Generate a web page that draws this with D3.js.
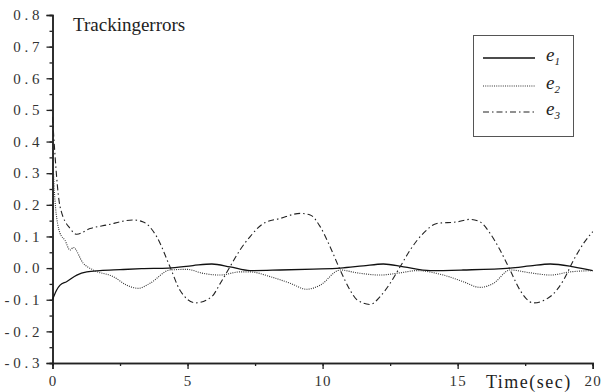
<!DOCTYPE html>
<html><head><meta charset="utf-8">
<script src="https://cdn.jsdelivr.net/npm/d3@7"></script>
<style>body{margin:0;background:#fff}svg{display:block}</style>
</head><body><svg id="c" width="603" height="392"></svg>
<script>
const yTicks=[-0.3,-0.2,-0.1,0.0,0.1,0.2,0.3,0.4,0.5,0.6,0.7,0.8];
const xTicks=[0,5,10,15,20];
const seriesNames=["e1","e2","e3"];
const e1=[[0,-0.10],[0.15,-0.07],[0.28,-0.054],[0.52,-0.043],[0.9,-0.022],[1.27,-0.012],[1.76,-0.008],[2.5,-0.005],[3.3,-0.002],[4.3,0.0],[5.2,0.008],[5.9,0.013],[6.57,0.004],[7.31,-0.008],[8.43,-0.006],[9.66,-0.003],[10.65,0.0],[11.5,0.007],[12.25,0.013],[13.0,0.004],[13.98,-0.008],[15.2,-0.006],[16.94,0.0],[17.69,0.007],[18.43,0.013],[19.29,0.004],[20,-0.008]];
const e2=[[0,0.38],[0.09,0.215],[0.28,0.11],[0.46,0.088],[0.65,0.057],[0.77,0.065],[1.14,0.015],[1.51,-0.006],[2.25,-0.027],[2.75,-0.054],[3.18,-0.064],[3.61,-0.048],[4.35,-0.006],[4.97,-0.004],[5.59,-0.017],[6.2,-0.022],[6.94,-0.012],[7.31,-0.012],[8.06,-0.027],[8.8,-0.048],[9.41,-0.067],[9.91,-0.054],[10.65,-0.006],[11.27,-0.015],[12.13,-0.022],[12.87,-0.015],[13.49,-0.008],[14.47,-0.022],[15.21,-0.043],[15.83,-0.061],[16.33,-0.048],[16.94,-0.006],[17.69,-0.015],[18.43,-0.022],[19.17,-0.012],[20,-0.008]];
const e3=[[0,0.478],[0.28,0.194],[0.65,0.125],[0.9,0.107],[1.39,0.125],[2.0,0.136],[3.0,0.152],[3.36,0.146],[3.86,0.099],[4.35,0.004],[4.72,-0.07],[5.3,-0.11],[5.9,-0.09],[6.2,-0.05],[6.57,0.004],[6.94,0.057],[7.31,0.099],[7.81,0.141],[8.43,0.157],[9.17,0.173],[9.54,0.168],[9.91,0.131],[10.28,0.067],[10.65,-0.006],[11.02,-0.07],[11.27,-0.10],[11.76,-0.115],[12.13,-0.09],[12.5,-0.048],[12.87,0.004],[13.24,0.057],[13.73,0.11],[14.23,0.141],[14.97,0.146],[15.46,0.154],[15.83,0.146],[16.2,0.11],[16.57,0.057],[16.94,-0.006],[17.31,-0.07],[17.8,-0.11],[18.43,-0.09],[18.92,-0.038],[19.29,0.025],[19.66,0.078],[20,0.115]];
const series=[e1,e2,e3];
const styles=[{dash:null,w:1.3,c:"#111"},{dash:"1,1.2",w:1.1,c:"#333"},{dash:"6,3,1.5,3",w:1.1,c:"#222"}];
const FONT="Liberation Serif";
const svg=d3.select("#c");
const x=d3.scaleLinear().domain([0,20]).range([52.5,592.7]);
const y=d3.scaleLinear().domain([-0.3,0.8]).range([363,15]);
const gx=svg.append("g").attr("transform","translate(0,363)");
gx.call(d3.axisBottom(x).tickValues(d3.range(0,20.01,2.5)).tickSize(3).tickFormat(""));
gx.call(g=>g.append("g").call(d3.axisBottom(x).tickValues(xTicks).tickSize(6).tickFormat(d=>d)));
gx.attr("font-family",FONT);
gx.selectAll("g").attr("font-family",FONT);
gx.selectAll("path").attr("stroke","#222").attr("stroke-width",1.5);
gx.selectAll("line").attr("stroke","#222").attr("stroke-width",1.3);
gx.selectAll("text").attr("font-size",15).attr("fill","#333").attr("letter-spacing",1.2).attr("dy","0.9em").attr("font-family",FONT);
const gy=svg.append("g").attr("transform","translate(52.5,0)");
gy.call(d3.axisLeft(y).tickValues(d3.range(-0.3,0.801,0.05)).tickSize(3).tickFormat(""));
gy.call(g=>g.append("g").call(d3.axisLeft(y).tickValues(yTicks).tickSize(6).tickFormat(d=>{const s=d3.format(".1f")(Math.abs(d)).split("").join(" ");return (d<0?"- ":"")+s;})));
gy.attr("font-family",FONT);
gy.selectAll("g").attr("font-family",FONT);
gy.selectAll("path").attr("stroke","#222").attr("stroke-width",1.5);
gy.selectAll("line").attr("stroke","#222").attr("stroke-width",1.3);
gy.selectAll("text").attr("font-size",15).attr("fill","#333").attr("x",-13).attr("font-family",FONT).style("white-space","pre");
const line=d3.line().x(d=>x(d[0])).y(d=>y(d[1])).curve(d3.curveMonotoneX);
series.forEach((s,i)=>{
  svg.append("path").datum(s).attr("d",line).attr("fill","none").attr("stroke",styles[i].c).attr("stroke-width",styles[i].w).attr("stroke-dasharray",styles[i].dash);
});
svg.append("text").attr("x",73).attr("y",31).attr("font-size",19).attr("fill","#222").attr("font-family",FONT).text("Trackingerrors");
svg.append("text").attr("x",486).attr("y",388).attr("font-size",18).attr("letter-spacing",1.5).attr("fill","#222").attr("font-family",FONT).text("Time(sec)");
const lg=svg.append("g");
lg.append("rect").attr("x",473.5).attr("y",35.5).attr("width",100).attr("height",101).attr("fill","#fff").attr("stroke","#555").attr("stroke-width",1);
const ly=[58,86,112];
seriesNames.forEach((n,i)=>{
  lg.append("line").attr("x1",483).attr("x2",535).attr("y1",ly[i]).attr("y2",ly[i]).attr("stroke",styles[i].c).attr("stroke-width",styles[i].w).attr("stroke-dasharray",styles[i].dash);
  const t=lg.append("text").attr("x",546).attr("y",ly[i]+3).attr("font-size",19).attr("font-style","italic").attr("fill","#222").attr("font-family",FONT).text(n[0]);
  t.append("tspan").attr("font-size",11).attr("dy",4).text(n.slice(1));
});
</script></body></html>
